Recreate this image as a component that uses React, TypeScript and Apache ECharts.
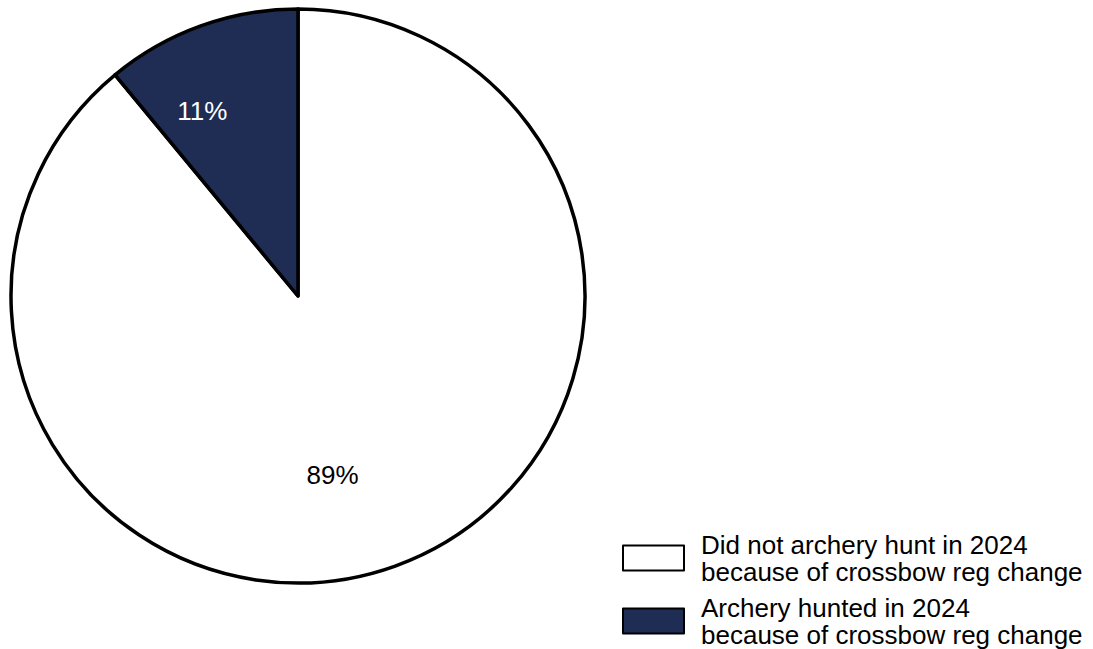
import React, { useEffect, useRef } from "react";
import * as echarts from "echarts";

const categories = [
  "Did not archery hunt in 2024\nbecause of crossbow reg change",
  "Archery hunted in 2024\nbecause of crossbow reg change",
];
const values = [89, 11];
const colors = ["#FFFFFF", "#1F2D55"];
const labelColors = ["#000000", "#FFFFFF"];

export default function App() {
  const ref = useRef<HTMLDivElement>(null);
  useEffect(() => {
    document.body.style.margin = "0";
    const chart = echarts.init(ref.current!, null, { renderer: "svg" });
    chart.setOption({
      animation: false,
      backgroundColor: "#FFFFFF",
      textStyle: { fontFamily: "Liberation Sans, Arial, sans-serif" },
      legend: {
        orient: "vertical",
        left: 622,
        top: 531,
        padding: 0,
        itemWidth: 61,
        itemHeight: 25,
        itemGap: 9,
        icon: "rect",
        selectedMode: false,
        itemStyle: { borderColor: "#000000", borderWidth: 2 },
        textStyle: {
          fontSize: 26,
          lineHeight: 27,
          color: "#000000",
          padding: [0, 0, 0, 12],
          fontFamily: "Liberation Sans, Arial, sans-serif",
        },
        data: categories,
      },
      series: [
        {
          type: "pie",
          center: [298, 296],
          radius: 287,
          startAngle: 90,
          clockwise: true,
          avoidLabelOverlap: false,
          itemStyle: { borderColor: "#000000", borderWidth: 3.5 },
          emphasis: { disabled: true },
          label: {
            show: true,
            position: "inside",
            formatter: "{c}%",
            fontSize: 26,
            fontFamily: "Liberation Sans, Arial, sans-serif",
          },
          labelLine: { show: false },
          labelLayout: (p: any) =>
            p.dataIndex === 1 ? { dx: -46, dy: -47 } : { dx: -15, dy: 41 },
          data: categories.map((name, i) => ({
            name,
            value: values[i],
            itemStyle: { color: colors[i] },
            label: { color: labelColors[i] },
          })),
        },
      ],
    });
    return () => chart.dispose();
  }, []);
  return <div ref={ref} style={{ width: 1093, height: 649 }} />;
}
